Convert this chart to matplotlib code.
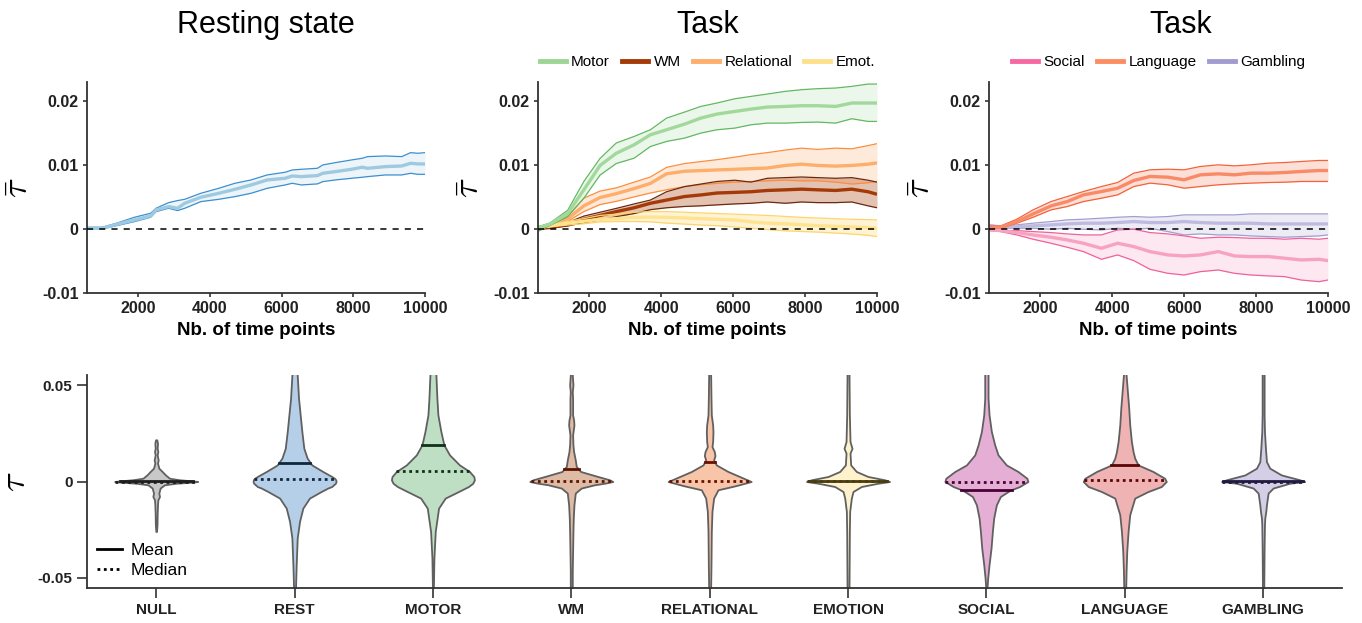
import numpy as np
import matplotlib.pyplot as plt
from matplotlib.lines import Line2D

plt.rcParams['font.family'] = ['Liberation Sans', 'DejaVu Sans']
plt.rcParams['mathtext.fontset'] = 'cm'

# ---------------- top row: tau bar vs nb. of time points (units of 1e-3)
t_rest = [600, 1000, 1450, 1900, 2350, 2500, 2850, 3100, 3300, 3750, 4250, 4700, 5150, 5600,
          6100, 6300, 6550, 7000, 7150, 7500, 7950, 8250, 8400, 8900, 9350, 9600, 9800, 10000]
rest_mean = [0.10, 0.10, 0.78, 1.40, 2.03, 2.96, 3.48, 3.22, 4.00, 4.94, 5.56, 6.18, 6.86, 7.64,
             7.90, 8.26, 8.16, 8.32, 8.68, 8.94, 9.30, 9.62, 9.46, 9.72, 9.82, 10.24, 10.14, 10.14]
rest_hi = [0.26, 0.26, 0.98, 1.82, 2.44, 3.22, 4.10, 4.42, 4.62, 5.56, 6.34, 7.12, 7.64, 8.42,
           8.84, 9.20, 9.30, 9.46, 9.98, 10.34, 10.76, 11.02, 11.28, 11.38, 11.28, 11.90, 11.80, 11.90]
rest_lo = [-0.06, 0.00, 0.57, 1.14, 1.82, 2.70, 3.22, 2.86, 3.22, 4.26, 4.62, 5.04, 5.56, 6.34,
           6.86, 7.12, 6.86, 7.02, 7.38, 7.64, 7.90, 8.06, 8.16, 8.42, 8.42, 8.68, 8.52, 8.52]

t_task = [600, 900, 1400, 1850, 2300, 2750, 3250, 3700, 4150, 4650, 5100, 5550, 6050, 6500,
          6950, 7450, 7900, 8350, 8850, 9300, 9750, 10000]
motor_hi = [0.36, 0.89, 2.90, 7.40, 11.00, 13.40, 14.43, 15.47, 17.29, 18.23, 19.11, 19.64, 20.31,
            20.68, 21.04, 21.46, 21.72, 21.88, 21.98, 22.24, 22.60, 22.60]
motor_mean = [0.21, 0.73, 2.40, 6.10, 9.90, 11.80, 13.13, 14.69, 15.47, 16.35, 17.29, 17.92, 18.33,
              18.70, 19.01, 19.11, 19.22, 19.22, 19.11, 19.64, 19.64, 19.64]
motor_lo = [-0.31, 0.52, 1.90, 4.80, 8.40, 10.20, 11.04, 12.86, 13.65, 14.17, 14.95, 15.47, 15.73,
            16.25, 16.51, 16.51, 16.61, 16.67, 16.51, 17.19, 16.77, 16.77]
wm_hi = [0.21, 0.36, 1.00, 2.00, 2.60, 3.20, 3.90, 4.50, 5.80, 6.60, 7.00, 7.40, 7.60, 7.30,
         7.90, 8.00, 8.10, 8.00, 7.90, 8.00, 7.60, 7.30]
wm_mean = [0.10, 0.21, 0.70, 1.50, 2.10, 2.70, 3.30, 4.00, 4.50, 5.05, 5.30, 5.60, 5.70, 5.80,
           6.00, 6.10, 6.20, 6.10, 6.00, 6.20, 5.80, 5.40]
wm_lo = [0.00, 0.10, 0.45, 1.00, 1.40, 1.90, 2.40, 3.00, 3.30, 3.50, 3.60, 3.75, 3.90, 4.00,
         4.20, 4.00, 4.20, 4.10, 4.10, 4.20, 3.60, 3.30]
rel_hi = [0.36, 0.73, 2.00, 4.80, 5.90, 6.40, 7.30, 8.10, 9.60, 10.20, 10.50, 10.80, 11.20, 11.60,
          11.90, 12.30, 12.60, 12.40, 12.60, 12.50, 13.00, 13.30]
rel_mean = [0.21, 0.63, 1.60, 3.60, 4.90, 5.50, 6.30, 7.10, 8.60, 9.00, 9.10, 9.20, 9.30, 9.40,
            9.50, 9.90, 10.10, 9.90, 9.80, 9.90, 10.10, 10.30]
rel_lo = [0.10, 0.52, 1.20, 2.70, 3.80, 4.30, 5.00, 5.60, 6.10, 6.60, 6.90, 7.10, 7.30, 7.40,
          7.50, 7.60, 7.50, 7.50, 7.30, 7.00, 7.20, 7.40]
emo_hi = [0.36, 0.63, 1.20, 1.60, 2.10, 2.30, 2.60, 2.70, 2.70, 2.60, 2.50, 2.40, 2.30, 2.20,
          2.10, 1.95, 1.80, 1.70, 1.60, 1.50, 1.45, 1.40]
emo_mean = [0.21, 0.47, 0.90, 1.20, 1.50, 1.60, 1.80, 1.85, 1.80, 1.70, 1.60, 1.50, 1.40, 1.10,
            0.90, 0.80, 0.65, 0.50, 0.40, 0.30, 0.20, 0.10]
emo_lo = [0.10, 0.31, 0.60, 0.80, 1.10, 1.15, 1.15, 1.10, 0.90, 0.75, 0.60, 0.50, 0.30, 0.10,
          -0.10, -0.30, -0.40, -0.50, -0.65, -0.80, -1.00, -1.20]

t_task2 = [600, 900, 1350, 1800, 2300, 2750, 3200, 3700, 4150, 4600, 5050, 5550, 6000, 6450,
           6950, 7400, 7850, 8350, 8800, 9250, 9750, 10000]
soc_hi = [-0.05, -0.26, -0.26, -0.42, -0.57, -0.78, -0.94, -0.94, -0.16, -0.05, -0.57, -0.78,
          -1.09, -1.46, -1.30, -1.35, -1.46, -1.46, -1.61, -1.46, -1.61, -1.46]
soc_mean = [-0.16, -0.26, -0.57, -0.94, -1.30, -1.72, -2.24, -3.02, -2.24, -2.76, -3.54, -4.06,
            -4.22, -4.06, -3.54, -4.22, -4.32, -4.32, -4.58, -4.84, -4.74, -4.95]
soc_lo = [-0.26, -0.42, -0.94, -1.61, -2.24, -2.86, -3.54, -4.74, -4.06, -4.95, -6.30, -6.93,
          -7.19, -6.67, -6.41, -6.93, -7.19, -7.34, -7.45, -7.97, -8.23, -7.97]
lang_hi = [0.47, 0.47, 1.51, 2.97, 4.27, 5.05, 5.83, 6.61, 7.24, 8.70, 9.22, 9.32, 9.22, 9.74,
           10.00, 9.84, 10.00, 10.26, 10.36, 10.52, 10.68, 10.68]
lang_mean = [0.26, 0.26, 1.15, 2.34, 3.59, 4.27, 5.31, 5.83, 6.35, 7.55, 8.18, 8.07, 7.66, 8.44,
             8.59, 8.44, 8.70, 8.70, 8.80, 8.96, 9.11, 9.11]
lang_lo = [0.10, 0.10, 0.89, 1.82, 2.97, 3.49, 4.27, 4.79, 5.31, 6.61, 7.14, 6.88, 6.35, 6.61,
           6.88, 7.03, 7.14, 7.24, 7.29, 7.40, 7.40, 7.40]
gamb_hi = [0.63, 0.47, 0.63, 0.89, 1.15, 1.41, 1.51, 1.67, 1.82, 1.93, 1.82, 1.93, 2.19, 2.19,
           2.19, 2.19, 2.34, 2.34, 2.34, 2.34, 2.34, 2.34]
gamb_mean = [0.47, 0.26, 0.36, 0.47, 0.63, 0.78, 0.89, 0.89, 0.99, 1.15, 0.99, 0.99, 1.15, 0.99,
             0.89, 0.89, 0.89, 0.78, 0.78, 0.78, 0.78, 0.78]
gamb_lo = [0.26, 0.10, 0.10, 0.10, -0.05, 0.10, -0.05, -0.16, 0.10, -0.05, 0.10, -0.42, -0.94,
           -0.78, -0.94, -0.94, -1.09, -1.20, -1.30, -1.20, -1.09, -0.94]

# ---------------- bottom row: violins of tau (coords in units of 1e-3, relative widths)
cats = ['NULL', 'REST', 'MOTOR', 'WM', 'RELATIONAL', 'EMOTION', 'SOCIAL', 'LANGUAGE', 'GAMBLING']
null_y = [-25.9, -22.4, -17.2, -12.1, -9.5, -7.8, -6.0, -3.4, -1.7, -0.9, -0.3, 0, 0.3, 0.9, 1.7,
          3.4, 5.2, 6.9, 9.5, 11.2, 13.8, 15.5, 17.2, 19.8, 21.6]
null_w = [1, 2.5, 3, 4, 5, 10, 8, 12, 25, 60, 110, 125, 110, 70, 40, 28, 18, 8, 4, 6, 3, 5, 3, 4, 2]
rest_y = [-58.6, -54.8, -43.1, -29.3, -20.7, -13.8, -8.6, -5.2, -3.4, -2.6, -0.9, 0, 0.9, 1.7, 2.6,
          5.2, 8.6, 12.1, 17.2, 25.9, 34.5, 43.1, 55.2, 58.6]
rest_w = [3, 3, 5, 8, 15, 25, 45, 80, 100, 112, 123, 125, 124, 120, 112, 85, 52, 38, 28, 22, 17,
          12, 8, 8]
motor_y = [-58.6, -54.8, -39.7, -25.9, -13.8, -8.6, -5.2, -2.6, -0.9, 0.9, 2.6, 5.2, 8.6, 13.8,
           19.0, 25.9, 34.5, 43.1, 55.2, 58.6]
motor_w = [1.5, 1.5, 3, 7, 17, 37, 77, 107, 120, 125, 123, 110, 80, 50, 33, 24, 15, 12, 9, 9]
wm_y = [-58.6, -54.8, -46.5, -36.2, -25.9, -19.0, -12.1, -6.0, -3.4, -1.7, -0.9, 0, 0.9, 2.6, 5.2,
        7.8, 11.2, 15.5, 19.0, 24.1, 26.7, 29.3, 31.9, 34.5, 43.1, 46.5, 50.0, 55.2, 58.6]
wm_w = [3, 3, 3, 4, 5, 6, 8, 12, 30, 70, 100, 125, 115, 80, 28, 15, 12, 7, 5, 4, 6, 8, 7, 4, 4, 3,
        5, 3, 3]
rel_y = [-58.6, -54.8, -43.1, -25.9, -15.5, -8.6, -4.3, -2.1, 0, 2.6, 5.2, 8.6, 11.2, 13.4, 15.5,
         18.1, 20.7, 25.9, 29.3, 34.5, 43.1, 55.2, 58.6]
rel_w = [3, 3, 4, 5, 7, 12, 25, 80, 125, 90, 55, 20, 12, 16, 14, 7, 9, 10, 9, 5, 4, 3, 3]
emo_y = [-58.6, -54.8, -25.9, -15.5, -8.6, -5.2, -2.6, -0.9, 0, 0.9, 2.6, 5.2, 8.6, 14.7, 17.2,
         20.7, 34.5, 55.2, 58.6]
emo_w = [3, 3, 4, 5, 10, 15, 40, 90, 125, 110, 60, 25, 8, 6, 12, 6, 4, 3, 3]
soc_y = [-58.6, -54.8, -50.0, -43.1, -34.5, -25.9, -19.0, -12.1, -7.8, -5.2, -4.3, -2.6, 0, 1.7,
         5.2, 8.6, 13.8, 19.0, 25.9, 34.5, 43.1, 55.2, 58.6]
soc_w = [1, 2, 4, 8, 14, 18, 22, 30, 42, 65, 75, 100, 125, 122, 95, 60, 35, 25, 15, 8, 5, 5, 5]
lang_y = [-58.6, -54.8, -46.5, -36.2, -25.9, -17.2, -8.6, -5.2, -2.6, 0, 1.7, 5.2, 8.6, 12.1,
          15.5, 20.7, 29.3, 37.9, 46.5, 55.2, 58.6]
lang_w = [3, 3, 4, 6, 10, 15, 30, 70, 110, 125, 120, 85, 40, 30, 25, 20, 15, 12, 8, 4, 4]
gamb_y = [-58.6, -54.8, -34.5, -22.4, -19.0, -15.5, -12.1, -6.0, -3.4, -0.9, 0, 0.9, 3.4, 6.9,
          10.3, 17.2, 25.9, 34.5, 55.2, 58.6]
gamb_w = [2, 2, 3, 4, 5, 8, 10, 15, 30, 80, 125, 110, 55, 20, 10, 7, 4, 3, 3, 3]
vio_means = [0.3, 9.8, 19.0, 6.3, 10.1, 0.4, -4.2, 8.6, 0.3]
vio_medians = [0.0, 1.4, 5.2, 0.2, 0.2, 0.1, 0.0, 1.0, 0.0]

vio_fill = ['#c8c8c8', '#b6cfe9', '#bfdfc5', '#dfbaa5', '#f8c5a8', '#fdf2cc', '#e5afd5',
            '#f0b3b3', '#d4cee7']
vio_dark = ['#1e1e1e', '#10263a', '#10301a', '#5a1600', '#6a1000', '#4a3c10', '#4a0035',
            '#5a0505', '#201a40']

AX_C = '#333333'


def style_axis(ax, ticklen):
    for s in ['top', 'right']:
        ax.spines[s].set_visible(False)
    for s in ['left', 'bottom']:
        ax.spines[s].set_color(AX_C)
        ax.spines[s].set_linewidth(1.3)
    ax.tick_params(colors=AX_C, length=ticklen, width=1.2, labelcolor='#222222')


def band(ax, t, lo, mean, hi, c_line, c_mean, c_fill, a_fill):
    t = np.asarray(t)
    lo = np.asarray(lo) * 1e-3
    hi = np.asarray(hi) * 1e-3
    mean = np.asarray(mean) * 1e-3
    ax.fill_between(t, lo, hi, color=c_fill, alpha=a_fill, lw=0)
    ax.plot(t, lo, color=c_line, lw=0.9)
    ax.plot(t, hi, color=c_line, lw=0.9)
    ax.plot(t, mean, color=c_mean, lw=2.4, solid_capstyle='butt')


fig = plt.figure(figsize=(13.62, 6.23), dpi=100)
W, H = 1362, 623
top_b, top_h = (H - 293) / H, 211.5 / H
ax1 = fig.add_axes([87 / W, top_b, 338 / W, top_h])
ax2 = fig.add_axes([538 / W, top_b, 339 / W, top_h])
ax3 = fig.add_axes([989 / W, top_b, 339 / W, top_h])
ax4 = fig.add_axes([87 / W, 35 / H, 1255 / W, 213 / H])

band(ax1, t_rest, rest_lo, rest_mean, rest_hi, '#3b8fd0', '#9ecae1', '#3182bd', 0.08)

band(ax2, t_task, rel_lo, rel_mean, rel_hi, '#fd8d3c', '#fdae6b', '#fd8d3c', 0.18)
band(ax2, t_task, wm_lo, wm_mean, wm_hi, '#6b2a10', '#a33a08', '#a63603', 0.3)
band(ax2, t_task, emo_lo, emo_mean, emo_hi, '#fdd56a', '#fee391', '#fed976', 0.3)
band(ax2, t_task, motor_lo, motor_mean, motor_hi, '#63b862', '#a1d99b', '#a1d99b', 0.2)

band(ax3, t_task2, gamb_lo, gamb_mean, gamb_hi, '#a29dd0', '#bfbbe0', '#9e9ac8', 0.18)
band(ax3, t_task2, soc_lo, soc_mean, soc_hi, '#f0609a', '#f7a3c0', '#f768a1', 0.15)
band(ax3, t_task2, lang_lo, lang_mean, lang_hi, '#f4623a', '#f88a68', '#f4623a', 0.2)

for ax in (ax1, ax2, ax3):
    ax.axhline(0, color='black', lw=1.1, ls=(0, (4, 4)), zorder=5)
    ax.set_xlim(575, 10000)
    ax.set_ylim(-0.01, 0.023)
    ax.set_xticks([2000, 4000, 6000, 8000, 10000])
    ax.set_yticks([-0.01, 0, 0.01, 0.02])
    ax.set_yticklabels(['-0.01', '0', '0.01', '0.02'])
    style_axis(ax, 3)
    ax.tick_params(labelsize=11.5, pad=3)
    for lab in ax.get_xticklabels() + ax.get_yticklabels():
        lab.set_fontweight('bold')
    ax.set_xlabel('Nb. of time points', fontsize=13.5, fontweight='bold', labelpad=4)
    ax.set_ylabel(r'$\bar{\tau}$', fontsize=26)
    ax.yaxis.set_label_coords(-0.15, 0.5)

leg2 = [Line2D([], [], color=c, lw=3.5) for c in ['#9dd694', '#a33a08', '#fdae6b', '#fee08b']]
ax2.legend(leg2, ['Motor', 'WM', 'Relational', 'Emot.'], ncol=4, loc='lower center',
           bbox_to_anchor=(0.5, 1.0), frameon=False, fontsize=11, handlelength=1.7,
           handletextpad=0.35, columnspacing=0.8, borderaxespad=0.4)
leg3 = [Line2D([], [], color=c, lw=3.5) for c in ['#f768a1', '#fc8d62', '#a09cd0']]
ax3.legend(leg3, ['Social', 'Language', 'Gambling'], ncol=3, loc='lower center',
           bbox_to_anchor=(0.5, 1.0), frameon=False, fontsize=11, handlelength=1.7,
           handletextpad=0.35, columnspacing=0.8, borderaxespad=0.4)

fig.text(266 / W, 1 - 25 / H, 'Resting state', ha='center', va='center', fontsize=22)
fig.text(708 / W, 1 - 25 / H, 'Task', ha='center', va='center', fontsize=22)
fig.text(1181 / W, 1 - 25 / H, 'Task', ha='center', va='center', fontsize=22)

# ---------------- violins
profiles = [(null_y, null_w), (rest_y, rest_w), (motor_y, motor_w), (wm_y, wm_w),
            (rel_y, rel_w), (emo_y, emo_w), (soc_y, soc_w), (lang_y, lang_w),
            (gamb_y, gamb_w)]
vwidth = 0.6
stats = []
for (yy, ww), m, md in zip(profiles, vio_means, vio_medians):
    yy = np.asarray(yy) * 1e-3
    ww = np.asarray(ww, dtype=float)
    stats.append(dict(coords=yy, vals=ww, mean=m * 1e-3, median=md * 1e-3,
                      min=yy.min(), max=yy.max()))
pos = np.arange(len(cats))
parts = ax4.violin(stats, positions=pos, widths=vwidth, showmeans=False,
                   showextrema=False, showmedians=False)
for body, fc in zip(parts['bodies'], vio_fill):
    body.set_facecolor(fc)
    body.set_edgecolor('#606060')
    body.set_linewidth(1.3)
    body.set_alpha(1)

for p, st, dc in zip(pos, stats, vio_dark):
    rel = st['vals'] / st['vals'].max()
    for val, ls in ((st['mean'], '-'), (st['median'], (0, (1, 1.3)))):
        hw = 0.5 * vwidth * np.interp(val, st['coords'], rel)
        ax4.plot([p - hw, p + hw], [val, val], color=dc, lw=2, ls=ls, zorder=4)

ax4.set_xlim(-0.5, 8.57)
ax4.set_ylim(-0.0552, 0.0552)
ax4.set_xticks(pos)
ax4.set_xticklabels(cats, fontsize=11, fontweight='bold')
ax4.set_yticks([-0.05, 0, 0.05])
ax4.set_yticklabels(['-0.05', '0', '0.05'], fontsize=11, fontweight='bold')
style_axis(ax4, 7)
ax4.tick_params(axis='x', pad=4)
ax4.set_ylabel(r'$\tau$', fontsize=26)
ax4.yaxis.set_label_coords(-0.043, 0.5)

leg4 = [Line2D([], [], color='black', lw=2), Line2D([], [], color='black', lw=2, ls=(0, (1, 1.3)))]
ax4.legend(leg4, ['Mean', 'Median'], loc='lower left', frameon=False, fontsize=12.5,
           handlelength=1.4, handletextpad=0.5, borderaxespad=0.2, labelspacing=0.25)

fig.savefig('out.png', dpi=100)
